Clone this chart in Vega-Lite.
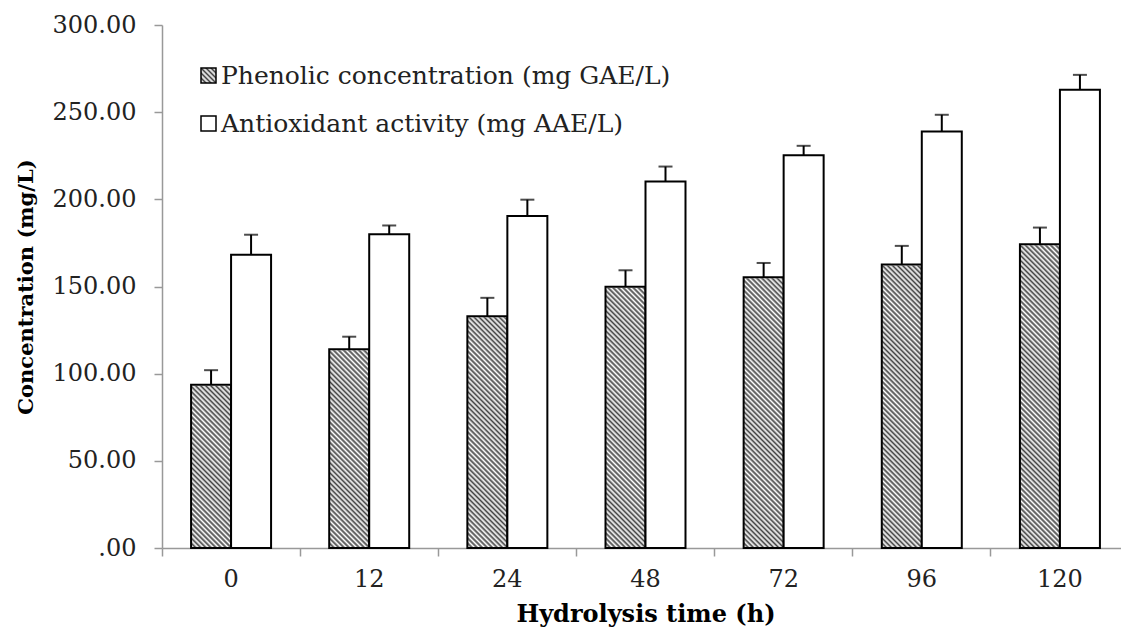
{
  "$schema": "https://vega.github.io/schema/vega-lite/v6.json",
  "width": 959,
  "height": 523,
  "autosize": {"type": "none"},
  "padding": {"left": 162, "top": 25, "right": 0, "bottom": 84},
  "background": "white",
  "config": {"view": {"stroke": null}, "font": "DejaVu Serif", "axis": {"grid": false}},
  "data": {
    "values": [
      {"time": "0", "series": "Phenolic concentration (mg GAE/L)", "value": 93.6, "upper": 102.0},
      {"time": "12", "series": "Phenolic concentration (mg GAE/L)", "value": 114.0, "upper": 121.2},
      {"time": "24", "series": "Phenolic concentration (mg GAE/L)", "value": 133.0, "upper": 143.5},
      {"time": "48", "series": "Phenolic concentration (mg GAE/L)", "value": 149.9, "upper": 159.3},
      {"time": "72", "series": "Phenolic concentration (mg GAE/L)", "value": 155.3, "upper": 163.5},
      {"time": "96", "series": "Phenolic concentration (mg GAE/L)", "value": 162.6, "upper": 173.3},
      {"time": "120", "series": "Phenolic concentration (mg GAE/L)", "value": 174.2, "upper": 183.8},
      {"time": "0", "series": "Antioxidant activity (mg AAE/L)", "value": 168.2, "upper": 179.7},
      {"time": "12", "series": "Antioxidant activity (mg AAE/L)", "value": 180.0, "upper": 185.0},
      {"time": "24", "series": "Antioxidant activity (mg AAE/L)", "value": 190.4, "upper": 199.8},
      {"time": "48", "series": "Antioxidant activity (mg AAE/L)", "value": 210.2, "upper": 218.8},
      {"time": "72", "series": "Antioxidant activity (mg AAE/L)", "value": 225.3, "upper": 230.7},
      {"time": "96", "series": "Antioxidant activity (mg AAE/L)", "value": 238.9, "upper": 248.5},
      {"time": "120", "series": "Antioxidant activity (mg AAE/L)", "value": 262.8, "upper": 271.4}
    ]
  },
  "encoding": {
    "x": {
      "field": "time",
      "type": "nominal",
      "sort": ["0", "12", "24", "48", "72", "96", "120"],
      "scale": {"range": [0, 967], "paddingInner": 0, "paddingOuter": 0},
      "axis": {
        "title": "Hydrolysis time (h)",
        "labelAngle": 0,
        "bandPosition": 0,
        "tickSize": 8,
        "tickWidth": 1.5,
        "tickColor": "#999999",
        "domainColor": "#999999",
        "domainWidth": 1.5,
        "labelPadding": 11,
        "labelFont": "DejaVu Serif",
        "labelFontSize": 24,
        "labelColor": "#222222",
        "titleFont": "DejaVu Serif",
        "titleFontSize": 24,
        "titleFontWeight": "bold",
        "titleColor": "#000000",
        "titlePadding": 11
      }
    },
    "xOffset": {
      "field": "series",
      "type": "nominal",
      "sort": ["Phenolic concentration (mg GAE/L)", "Antioxidant activity (mg AAE/L)"],
      "scale": {"paddingInner": 0, "paddingOuter": 0.7268}
    },
    "y": {
      "field": "value",
      "type": "quantitative",
      "title": "Concentration (mg/L)",
      "scale": {"domain": [0, 300], "nice": false},
      "axis": {
        "values": [0, 50, 100, 150, 200, 250, 300],
        "labelExpr": "datum.value === 0 ? '.00' : format(datum.value, '.2f')",
        "tickSize": 8,
        "tickWidth": 1.5,
        "tickColor": "#999999",
        "domainColor": "#999999",
        "domainWidth": 1.5,
        "labelPadding": 18,
        "labelFont": "DejaVu Serif",
        "labelFontSize": 24,
        "labelColor": "#222222",
        "titleFont": "DejaVu Serif",
        "titleFontSize": 21,
        "titleFontWeight": "bold",
        "titleColor": "#000000",
        "titlePadding": 16
      }
    }
  },
  "layer": [
    {
      "transform": [{"filter": "datum.series === 'Phenolic concentration (mg GAE/L)'"}],
      "mark": {
        "type": "bar",
        "strokeWidth": 0,
        "fill": {
          "gradient": "linear",
          "x1": 0, "y1": 1, "x2": 0.14142, "y2": -0.10944,
          "stops": [
            {"offset": 0, "color": "#444444"}, {"offset": 0.0071, "color": "#ffffff"}, {"offset": 0.0143, "color": "#444444"}, {"offset": 0.0214, "color": "#ffffff"}, {"offset": 0.0286, "color": "#444444"}, {"offset": 0.0357, "color": "#ffffff"}, {"offset": 0.0429, "color": "#444444"}, {"offset": 0.05, "color": "#ffffff"}, {"offset": 0.0571, "color": "#444444"}, {"offset": 0.0643, "color": "#ffffff"}, {"offset": 0.0714, "color": "#444444"}, {"offset": 0.0786, "color": "#ffffff"}, {"offset": 0.0857, "color": "#444444"}, {"offset": 0.0929, "color": "#ffffff"},
            {"offset": 0.1, "color": "#444444"}, {"offset": 0.1071, "color": "#ffffff"}, {"offset": 0.1143, "color": "#444444"}, {"offset": 0.1214, "color": "#ffffff"}, {"offset": 0.1286, "color": "#444444"}, {"offset": 0.1357, "color": "#ffffff"}, {"offset": 0.1429, "color": "#444444"}, {"offset": 0.15, "color": "#ffffff"}, {"offset": 0.1571, "color": "#444444"}, {"offset": 0.1643, "color": "#ffffff"}, {"offset": 0.1714, "color": "#444444"}, {"offset": 0.1786, "color": "#ffffff"}, {"offset": 0.1857, "color": "#444444"}, {"offset": 0.1929, "color": "#ffffff"},
            {"offset": 0.2, "color": "#444444"}, {"offset": 0.2071, "color": "#ffffff"}, {"offset": 0.2143, "color": "#444444"}, {"offset": 0.2214, "color": "#ffffff"}, {"offset": 0.2286, "color": "#444444"}, {"offset": 0.2357, "color": "#ffffff"}, {"offset": 0.2429, "color": "#444444"}, {"offset": 0.25, "color": "#ffffff"}, {"offset": 0.2571, "color": "#444444"}, {"offset": 0.2643, "color": "#ffffff"}, {"offset": 0.2714, "color": "#444444"}, {"offset": 0.2786, "color": "#ffffff"}, {"offset": 0.2857, "color": "#444444"}, {"offset": 0.2929, "color": "#ffffff"},
            {"offset": 0.3, "color": "#444444"}, {"offset": 0.3071, "color": "#ffffff"}, {"offset": 0.3143, "color": "#444444"}, {"offset": 0.3214, "color": "#ffffff"}, {"offset": 0.3286, "color": "#444444"}, {"offset": 0.3357, "color": "#ffffff"}, {"offset": 0.3429, "color": "#444444"}, {"offset": 0.35, "color": "#ffffff"}, {"offset": 0.3571, "color": "#444444"}, {"offset": 0.3643, "color": "#ffffff"}, {"offset": 0.3714, "color": "#444444"}, {"offset": 0.3786, "color": "#ffffff"}, {"offset": 0.3857, "color": "#444444"}, {"offset": 0.3929, "color": "#ffffff"},
            {"offset": 0.4, "color": "#444444"}, {"offset": 0.4071, "color": "#ffffff"}, {"offset": 0.4143, "color": "#444444"}, {"offset": 0.4214, "color": "#ffffff"}, {"offset": 0.4286, "color": "#444444"}, {"offset": 0.4357, "color": "#ffffff"}, {"offset": 0.4429, "color": "#444444"}, {"offset": 0.45, "color": "#ffffff"}, {"offset": 0.4571, "color": "#444444"}, {"offset": 0.4643, "color": "#ffffff"}, {"offset": 0.4714, "color": "#444444"}, {"offset": 0.4786, "color": "#ffffff"}, {"offset": 0.4857, "color": "#444444"}, {"offset": 0.4929, "color": "#ffffff"},
            {"offset": 0.5, "color": "#444444"}, {"offset": 0.5071, "color": "#ffffff"}, {"offset": 0.5143, "color": "#444444"}, {"offset": 0.5214, "color": "#ffffff"}, {"offset": 0.5286, "color": "#444444"}, {"offset": 0.5357, "color": "#ffffff"}, {"offset": 0.5429, "color": "#444444"}, {"offset": 0.55, "color": "#ffffff"}, {"offset": 0.5571, "color": "#444444"}, {"offset": 0.5643, "color": "#ffffff"}, {"offset": 0.5714, "color": "#444444"}, {"offset": 0.5786, "color": "#ffffff"}, {"offset": 0.5857, "color": "#444444"}, {"offset": 0.5929, "color": "#ffffff"},
            {"offset": 0.6, "color": "#444444"}, {"offset": 0.6071, "color": "#ffffff"}, {"offset": 0.6143, "color": "#444444"}, {"offset": 0.6214, "color": "#ffffff"}, {"offset": 0.6286, "color": "#444444"}, {"offset": 0.6357, "color": "#ffffff"}, {"offset": 0.6429, "color": "#444444"}, {"offset": 0.65, "color": "#ffffff"}, {"offset": 0.6571, "color": "#444444"}, {"offset": 0.6643, "color": "#ffffff"}, {"offset": 0.6714, "color": "#444444"}, {"offset": 0.6786, "color": "#ffffff"}, {"offset": 0.6857, "color": "#444444"}, {"offset": 0.6929, "color": "#ffffff"},
            {"offset": 0.7, "color": "#444444"}, {"offset": 0.7071, "color": "#ffffff"}, {"offset": 0.7143, "color": "#444444"}, {"offset": 0.7214, "color": "#ffffff"}, {"offset": 0.7286, "color": "#444444"}, {"offset": 0.7357, "color": "#ffffff"}, {"offset": 0.7429, "color": "#444444"}, {"offset": 0.75, "color": "#ffffff"}, {"offset": 0.7571, "color": "#444444"}, {"offset": 0.7643, "color": "#ffffff"}, {"offset": 0.7714, "color": "#444444"}, {"offset": 0.7786, "color": "#ffffff"}, {"offset": 0.7857, "color": "#444444"}, {"offset": 0.7929, "color": "#ffffff"},
            {"offset": 0.8, "color": "#444444"}, {"offset": 0.8071, "color": "#ffffff"}, {"offset": 0.8143, "color": "#444444"}, {"offset": 0.8214, "color": "#ffffff"}, {"offset": 0.8286, "color": "#444444"}, {"offset": 0.8357, "color": "#ffffff"}, {"offset": 0.8429, "color": "#444444"}, {"offset": 0.85, "color": "#ffffff"}, {"offset": 0.8571, "color": "#444444"}, {"offset": 0.8643, "color": "#ffffff"}, {"offset": 0.8714, "color": "#444444"}, {"offset": 0.8786, "color": "#ffffff"}, {"offset": 0.8857, "color": "#444444"}, {"offset": 0.8929, "color": "#ffffff"},
            {"offset": 0.9, "color": "#444444"}, {"offset": 0.9071, "color": "#ffffff"}, {"offset": 0.9143, "color": "#444444"}, {"offset": 0.9214, "color": "#ffffff"}, {"offset": 0.9286, "color": "#444444"}, {"offset": 0.9357, "color": "#ffffff"}, {"offset": 0.9429, "color": "#444444"}, {"offset": 0.95, "color": "#ffffff"}, {"offset": 0.9571, "color": "#444444"}, {"offset": 0.9643, "color": "#ffffff"}, {"offset": 0.9714, "color": "#444444"}, {"offset": 0.9786, "color": "#ffffff"}, {"offset": 0.9857, "color": "#444444"}, {"offset": 0.9929, "color": "#ffffff"},
            {"offset": 1, "color": "#444444"}
          ]
        }
      },
      "encoding": {
        "y": {"datum": 180, "type": "quantitative", "title": "Concentration (mg/L)"},
        "y2": {"datum": 0}
      }
    },
    {
      "transform": [{"filter": "datum.series === 'Phenolic concentration (mg GAE/L)'"}],
      "mark": {"type": "bar", "fill": "#ffffff", "stroke": "#ffffff", "strokeWidth": 2},
      "encoding": {"y2": {"datum": 180}}
    },
    {
      "transform": [{"filter": "datum.series === 'Phenolic concentration (mg GAE/L)'"}],
      "mark": {"type": "bar", "fill": "transparent", "stroke": "#000000", "strokeWidth": 2},
      "encoding": {}
    },
    {
      "transform": [{"filter": "datum.series === 'Antioxidant activity (mg AAE/L)'"}],
      "mark": {"type": "bar", "fill": "#ffffff", "stroke": "#000000", "strokeWidth": 2},
      "encoding": {}
    },
    {
      "mark": {"type": "rule", "strokeWidth": 2},
      "encoding": {
        "y2": {"field": "upper"},
        "stroke": {
          "field": "series",
          "type": "nominal",
          "scale": {
            "domain": ["Phenolic concentration (mg GAE/L)", "Antioxidant activity (mg AAE/L)"],
            "range": ["#000000", "#000000"]
          },
          "legend": {
            "title": null,
            "orient": "none",
            "legendX": 34,
            "legendY": 38,
            "padding": 0,
            "symbolType": "square",
            "symbolSize": 225,
            "symbolStrokeWidth": 1.5,
            "labelFont": "DejaVu Serif",
            "labelFontSize": 25,
            "labelColor": "#222222",
            "labelLimit": 0,
            "labelOffset": 0,
            "rowPadding": 22,
            "encode": {
              "symbols": {
                "update": {
                  "strokeWidth": {"value": 1.5},
                  "fill": [
                    {
                      "test": "datum.value === 'Phenolic concentration (mg GAE/L)'",
                      "value": {
                        "gradient": "linear",
                        "x1": 0, "y1": 1, "x2": 1, "y2": 0,
                        "stops": [
                          {"offset": 0, "color": "#444444"}, {"offset": 0.0833, "color": "#ffffff"}, {"offset": 0.1667, "color": "#444444"}, {"offset": 0.25, "color": "#ffffff"}, {"offset": 0.3333, "color": "#444444"}, {"offset": 0.4167, "color": "#ffffff"}, {"offset": 0.5, "color": "#444444"}, {"offset": 0.5833, "color": "#ffffff"}, {"offset": 0.6667, "color": "#444444"}, {"offset": 0.75, "color": "#ffffff"}, {"offset": 0.8333, "color": "#444444"}, {"offset": 0.9167, "color": "#ffffff"}, {"offset": 1, "color": "#444444"}
                        ]
                      }
                    },
                    {"value": "#ffffff"}
                  ]
                }
              }
            }
          }
        }
      }
    },
    {
      "mark": {"type": "tick", "orient": "horizontal", "thickness": 2, "size": 14, "color": "#000000"},
      "encoding": {"y": {"field": "upper", "type": "quantitative", "title": "Concentration (mg/L)"}}
    }
  ]
}
